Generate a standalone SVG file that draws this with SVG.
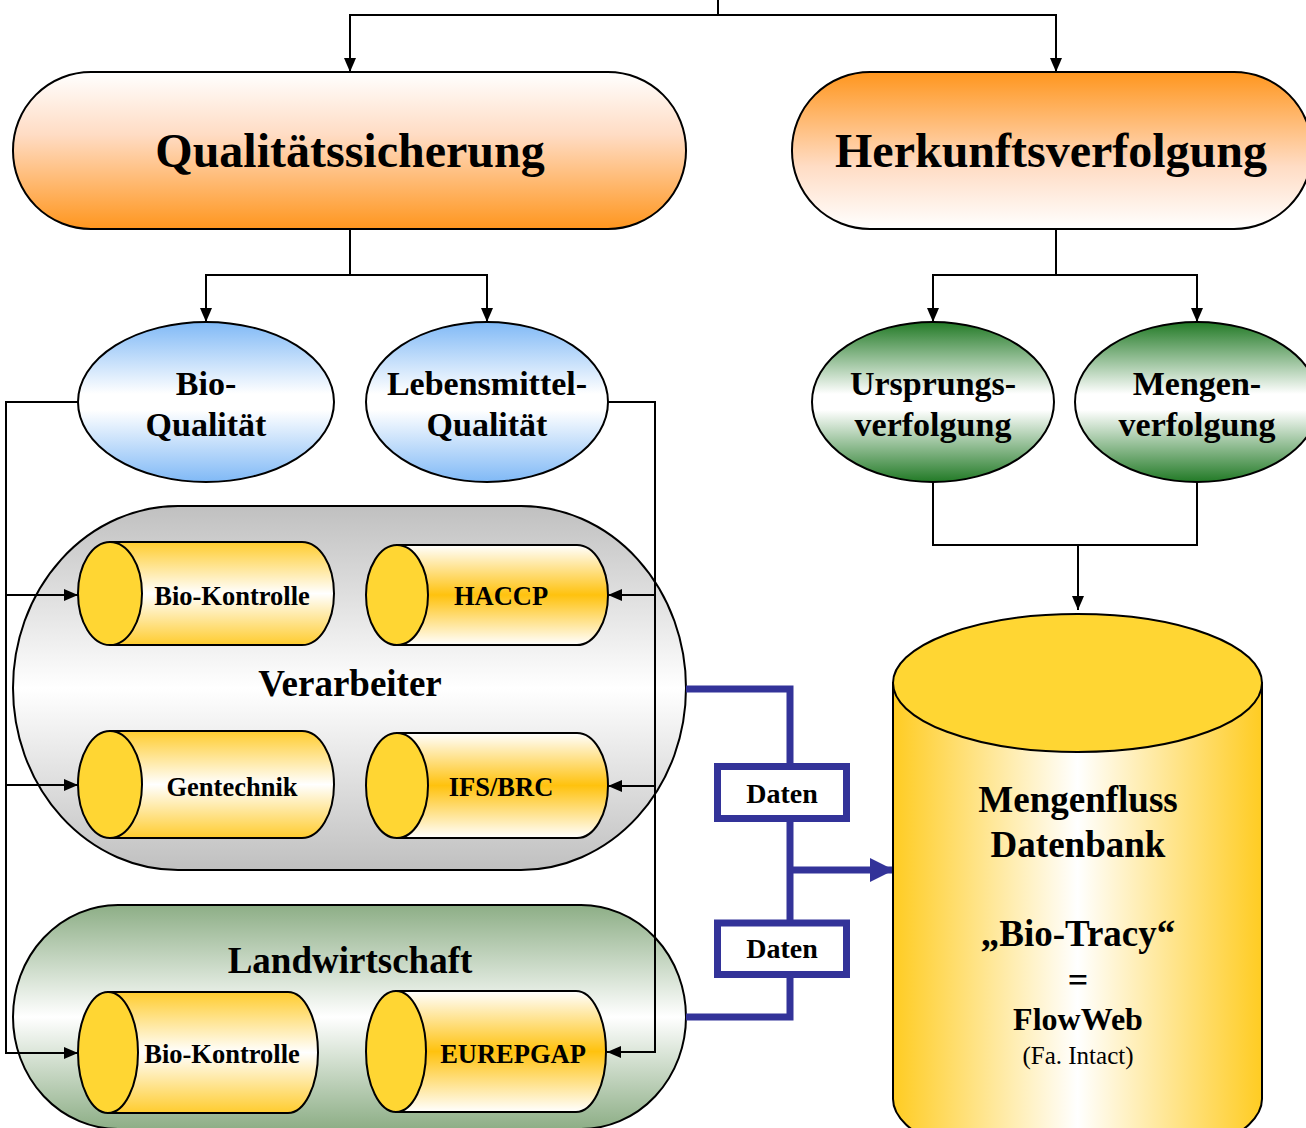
<svg xmlns="http://www.w3.org/2000/svg" width="1306" height="1128" viewBox="0 0 1306 1128">
<style>
text{font-family:"Liberation Serif","Times New Roman",serif;font-weight:bold;fill:#000;text-anchor:middle}
text.nb{font-weight:normal}
.ln{fill:none;stroke:#000;stroke-width:2}
.ar{marker-end:url(#ah)}
.bl{fill:none;stroke:#333399;stroke-width:7}
.sh{stroke:#000;stroke-width:2}
.cap{fill:#FFD633;stroke:#000;stroke-width:2}
</style>
<defs>
<linearGradient id="gQ" x1="0" y1="0" x2="0" y2="1"><stop offset="0" stop-color="#FFFFFF"/><stop offset="0.4" stop-color="#FFDCC4"/><stop offset="1" stop-color="#FF961E"/></linearGradient>
<linearGradient id="gH" x1="0" y1="0" x2="0" y2="1"><stop offset="0" stop-color="#FF961E"/><stop offset="0.6" stop-color="#FFDCC4"/><stop offset="1" stop-color="#FFFFFF"/></linearGradient>
<linearGradient id="gB" x1="0" y1="0" x2="0" y2="1"><stop offset="0" stop-color="#80B9F6"/><stop offset="0.45" stop-color="#FFFFFF"/><stop offset="0.55" stop-color="#FFFFFF"/><stop offset="1" stop-color="#80B9F6"/></linearGradient>
<linearGradient id="gG" x1="0" y1="0" x2="0" y2="1"><stop offset="0" stop-color="#227A26"/><stop offset="0.45" stop-color="#FFFFFF"/><stop offset="0.55" stop-color="#FFFFFF"/><stop offset="1" stop-color="#227A26"/></linearGradient>
<linearGradient id="gV" x1="0" y1="0" x2="0" y2="1"><stop offset="0" stop-color="#C0C0C0"/><stop offset="0.5" stop-color="#FFFFFF"/><stop offset="1" stop-color="#C0C0C0"/></linearGradient>
<linearGradient id="gL" x1="0" y1="0" x2="0" y2="1"><stop offset="0" stop-color="#8DAE86"/><stop offset="0.5" stop-color="#FFFFFF"/><stop offset="1" stop-color="#8DAE86"/></linearGradient>
<linearGradient id="gYW" x1="0" y1="0" x2="0" y2="1"><stop offset="0" stop-color="#FFCC2E"/><stop offset="0.5" stop-color="#FFFFFF"/><stop offset="1" stop-color="#FFCC2E"/></linearGradient>
<linearGradient id="gWY" x1="0" y1="0" x2="0" y2="1"><stop offset="0" stop-color="#FFFFFF"/><stop offset="0.5" stop-color="#FFC20E"/><stop offset="1" stop-color="#FFFFFF"/></linearGradient>
<linearGradient id="gDB" x1="0" y1="0" x2="1" y2="0"><stop offset="0" stop-color="#FFCC22"/><stop offset="0.5" stop-color="#FFFFFF"/><stop offset="1" stop-color="#FFCC22"/></linearGradient>
<marker id="ah" viewBox="0 0 14 12" refX="14" refY="6" markerWidth="14" markerHeight="12" markerUnits="userSpaceOnUse" orient="auto"><path d="M0,0 L14,6 L0,12 Z" fill="#000"/></marker>
<marker id="bah" viewBox="0 0 24 24" refX="24" refY="12" markerWidth="24" markerHeight="24" markerUnits="userSpaceOnUse" orient="auto"><path d="M0,0 L24,12 L0,24 Z" fill="#333399"/></marker>
</defs>

<g id="connectors">
<path class="ln ar" d="M718,0 V15 H350 V72"/>
<path class="ln ar" d="M718,15 H1056 V72"/>
<path class="ln ar" d="M350,229 V275 H206 V322"/>
<path class="ln ar" d="M350,275 H487 V322"/>
<path class="ln ar" d="M1056,229 V275 H933 V322"/>
<path class="ln ar" d="M1056,275 H1197 V322"/>
<path class="ln" d="M933,482 V545 H1197 V482"/>
<path class="ln ar" d="M1078,545 V610"/>
</g>

<g id="verarbeiter">
<rect x="13" y="506" width="673" height="364" rx="165" ry="182" fill="url(#gV)" class="sh"/>
<text x="350" y="696" font-size="37">Verarbeiter</text>
</g>
<g id="landwirtschaft">
<rect x="13" y="905" width="673" height="224" rx="105" ry="112" fill="url(#gL)" class="sh"/>
<text x="350" y="973" font-size="37">Landwirtschaft</text>
</g>

<g id="side-connectors">
<path class="ln ar" d="M78,402 H6 V1053 H78"/>
<path class="ln ar" d="M6,595 H78"/>
<path class="ln ar" d="M6,785 H78"/>
<path class="ln ar" d="M608,402 H655 V1052 H607"/>
<path class="ln ar" d="M655,595 H608"/>
<path class="ln ar" d="M655,786 H608"/>
</g>

<g id="qualitaetssicherung">
<rect x="13" y="72" width="673" height="157" rx="78" ry="78" fill="url(#gQ)" class="sh"/>
<text x="350" y="167" font-size="48">Qualitätssicherung</text>
</g>
<g id="herkunftsverfolgung">
<rect x="792" y="72" width="520" height="157" rx="78" ry="78" fill="url(#gH)" class="sh"/>
<text x="1051" y="167" font-size="48">Herkunftsverfolgung</text>
</g>

<g id="bio-qualitaet">
<ellipse cx="206" cy="402" rx="128" ry="80" fill="url(#gB)" class="sh"/>
<text x="206" y="395" font-size="34">Bio-</text>
<text x="206" y="436" font-size="34">Qualität</text>
</g>
<g id="lebensmittel-qualitaet">
<ellipse cx="487" cy="402" rx="121" ry="80" fill="url(#gB)" class="sh"/>
<text x="487" y="395" font-size="34">Lebensmittel-</text>
<text x="487" y="436" font-size="34">Qualität</text>
</g>
<g id="ursprungsverfolgung">
<ellipse cx="933" cy="402" rx="121" ry="80" fill="url(#gG)" class="sh"/>
<text x="933" y="395" font-size="34">Ursprungs-</text>
<text x="933" y="436" font-size="34">verfolgung</text>
</g>
<g id="mengenverfolgung">
<ellipse cx="1197" cy="402" rx="122" ry="80" fill="url(#gG)" class="sh"/>
<text x="1197" y="395" font-size="34">Mengen-</text>
<text x="1197" y="436" font-size="34">verfolgung</text>
</g>

<g id="bio-kontrolle-v">
<path d="M110,542 H302 A32,51.5 0 0 1 302,645 H110 Z" fill="url(#gYW)" class="sh"/>
<ellipse cx="110" cy="593.5" rx="32" ry="51.5" class="cap"/>
<text x="232" y="605" font-size="26.5">Bio-Kontrolle</text>
</g>
<g id="haccp">
<path d="M397,545 H577 A31,50 0 0 1 577,645 H397 Z" fill="url(#gWY)" class="sh"/>
<ellipse cx="397" cy="595" rx="31" ry="50" class="cap"/>
<text x="501" y="605" font-size="26.5">HACCP</text>
</g>
<g id="gentechnik">
<path d="M110,731 H302 A32,53.5 0 0 1 302,838 H110 Z" fill="url(#gYW)" class="sh"/>
<ellipse cx="110" cy="784.5" rx="32" ry="53.5" class="cap"/>
<text x="232" y="796" font-size="26.5">Gentechnik</text>
</g>
<g id="ifs-brc">
<path d="M397,733 H577 A31,52.5 0 0 1 577,838 H397 Z" fill="url(#gWY)" class="sh"/>
<ellipse cx="397" cy="785.5" rx="31" ry="52.5" class="cap"/>
<text x="501" y="796" font-size="26.5">IFS/BRC</text>
</g>
<g id="bio-kontrolle-l">
<path d="M108,992 H288 A30,60.5 0 0 1 288,1113 H108 Z" fill="url(#gYW)" class="sh"/>
<ellipse cx="108" cy="1052.5" rx="30" ry="60.5" class="cap"/>
<text x="222" y="1063" font-size="26.5">Bio-Kontrolle</text>
</g>
<g id="eurepgap">
<path d="M396,991 H576 A30,60.5 0 0 1 576,1112 H396 Z" fill="url(#gWY)" class="sh"/>
<ellipse cx="396" cy="1051.5" rx="30" ry="60.5" class="cap"/>
<text x="513" y="1063" font-size="26.5">EUREPGAP</text>
</g>

<g id="data-connectors">
<path class="bl" d="M686,689 H790 V766"/>
<path class="bl" d="M790,819 V923"/>
<path class="bl" d="M790,975 V1017 H686"/>
<path class="bl" d="M790,870 H894" marker-end="url(#bah)"/>
</g>
<g id="daten1">
<rect x="717.5" y="766.5" width="129" height="52" fill="#FFF" stroke="#333399" stroke-width="7"/>
<text x="782" y="803" font-size="28">Daten</text>
</g>
<g id="daten2">
<rect x="717.5" y="923" width="129" height="51.5" fill="#FFF" stroke="#333399" stroke-width="7"/>
<text x="782" y="958" font-size="28">Daten</text>
</g>

<g id="datenbank">
<path d="M893,683 V1099 A184.5,69 0 0 0 1262,1099 V683 Z" fill="url(#gDB)" class="sh"/>
<ellipse cx="1077.5" cy="683" rx="184.5" ry="69" class="cap"/>
<text x="1078" y="812" font-size="37">Mengenfluss</text>
<text x="1078" y="857" font-size="37">Datenbank</text>
<text x="1078" y="946" font-size="37">„Bio-Tracy“</text>
<text x="1078" y="992" font-size="36">=</text>
<text x="1078" y="1030" font-size="32">FlowWeb</text>
<text class="nb" x="1078" y="1064" font-size="25">(Fa. Intact)</text>
</g>
</svg>
